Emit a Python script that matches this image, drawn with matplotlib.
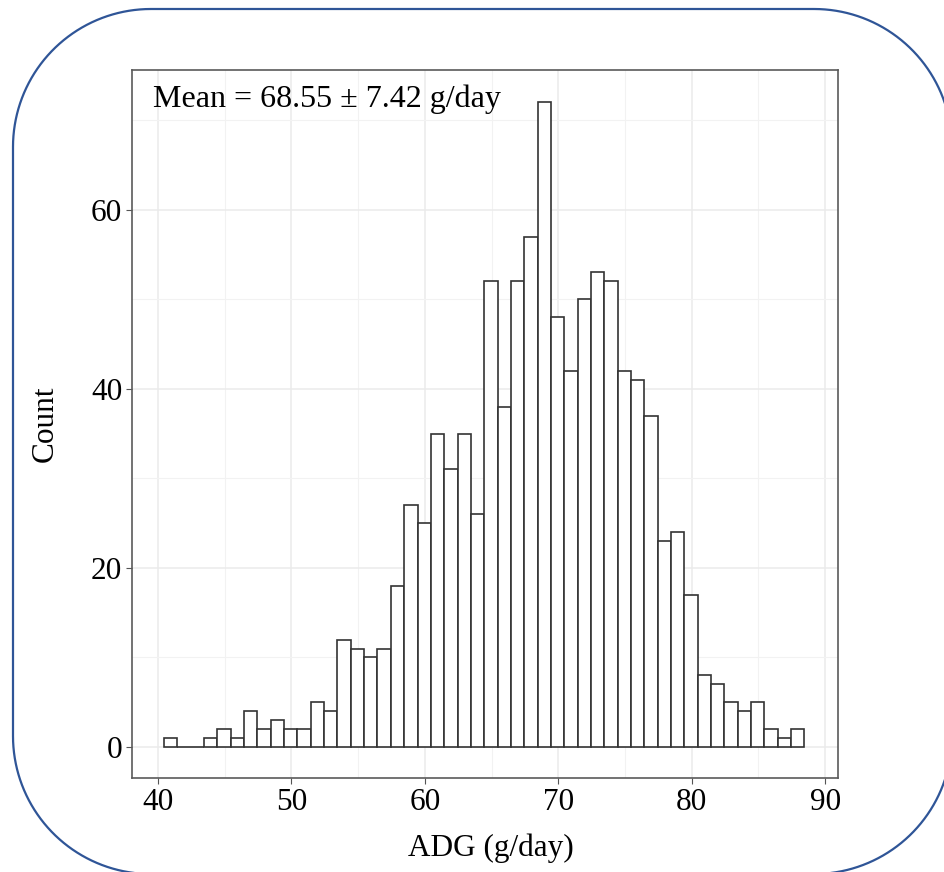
import numpy as np
import matplotlib
matplotlib.use("Agg")
import matplotlib.pyplot as plt
from matplotlib.patches import PathPatch
from matplotlib.path import Path

plt.rcParams['font.family'] = ['Liberation Serif', 'DejaVu Serif']

# histogram of ADG, bin width 1 g/day
bin_start = 40.45
counts = [1, 0, 0, 1, 2, 1, 4, 2, 3, 2, 2, 5, 4, 12, 11, 10, 11, 18, 27, 25,
          35, 31, 35, 26, 52, 38, 52, 57, 72, 48, 42, 50, 53, 52, 42, 41, 37,
          23, 24, 17, 8, 7, 5, 4, 5, 2, 1, 2]
x_ticks = [40, 50, 60, 70, 80, 90]
y_ticks = [0, 20, 40, 60]
note = "Mean = 68.55 ± 7.42 g/day"

left_edges = bin_start + np.arange(len(counts))

fig = plt.figure(figsize=(9.45, 8.72), dpi=100)
ax = fig.add_axes([0.1397, 0.1078, 0.7471, 0.8119])

ax.bar(left_edges, counts, width=1.0, align='edge', color='white',
       edgecolor='#333333', linewidth=1.2, zorder=3)

ax.set_xlim(38.05, 90.97)
ax.set_ylim(-3.46, 75.6)
ax.set_xticks(x_ticks)
ax.set_yticks(y_ticks)
ax.set_xticks([45, 55, 65, 75, 85], minor=True)
ax.set_yticks([10, 30, 50, 70], minor=True)
ax.grid(which='major', color='#EBEBEB', linewidth=1.1, zorder=0)
ax.grid(which='minor', color='#F2F2F2', linewidth=0.8, zorder=0)
ax.tick_params(which='minor', length=0)
ax.tick_params(which='major', length=4, color='#555555', labelsize=22.5,
               labelcolor='black', pad=3)
for s in ax.spines.values():
    s.set_color('#5a5a5a')
    s.set_linewidth(1.2)

ax.text(39.6, 72.3, note, fontsize=23, va='center', ha='left', zorder=4)
ax.set_xlabel("ADG (g/day)", fontsize=22.5)
ax.set_ylabel("Count", fontsize=22.5)
ax.xaxis.set_label_coords(0.508, -0.078)
ax.yaxis.set_label_coords(-0.103, 0.5)

# rounded blue frame around the picture, pixel coords (y from top)
x0, x1, y0, y1, r = 13, 952, 9, 874, 138
t = np.linspace(0, np.pi / 2, 40)
pts = []
pts += list(zip(x1 - r + r * np.sin(t), y0 + r - r * np.cos(t)))      # top right
pts += list(zip(x1 - r + r * np.cos(t), y1 - r + r * np.sin(t)))      # bottom right
pts += list(zip(x0 + r - r * np.sin(t), y1 - r + r * np.cos(t)))      # bottom left
pts += list(zip(x0 + r - r * np.cos(t), y0 + r - r * np.sin(t)))      # top left
pts.append(pts[0])
H = 872
verts = [(px, H - py) for px, py in pts]
frame = PathPatch(Path(verts), transform=None, facecolor='none',
                  edgecolor='#2F5597', linewidth=1.6, clip_on=False)
fig.patches.append(frame)

fig.savefig("out.png", dpi=100)
